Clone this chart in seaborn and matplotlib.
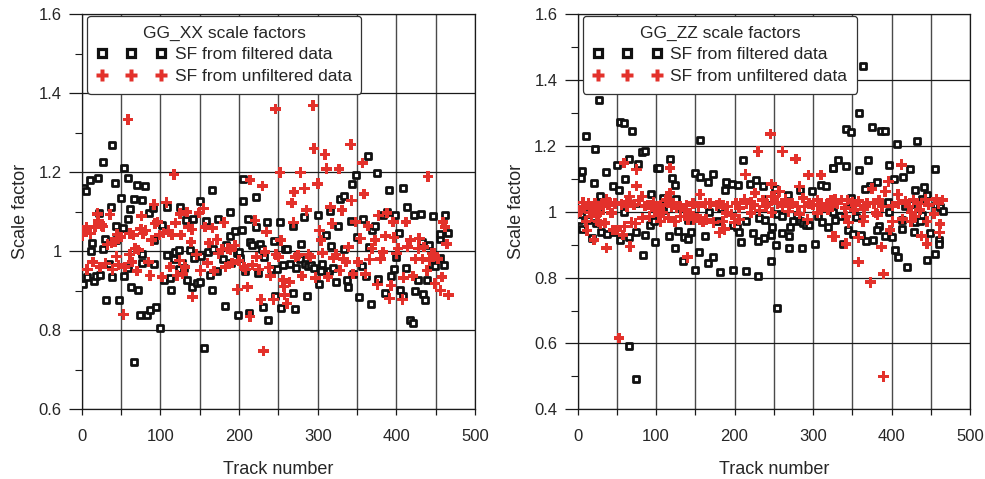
import numpy as np
import pandas as pd
import matplotlib
matplotlib.use("Agg")
import matplotlib.pyplot as plt
from matplotlib.lines import Line2D
from matplotlib.ticker import MultipleLocator, FuncFormatter
import seaborn as sns

# ---------------- data ----------------
xx_filt_track = [1, 3, 5, 7, 11, 12, 13, 15, 18, 21, 22, 23, 27, 27, 29, 31, 35, 37, 38, 39,
                 42, 44, 44, 47, 50, 52, 54, 54, 59, 59, 61, 59, 63, 66, 67, 70, 71, 74, 76, 76,
                 77, 81, 83, 86, 87, 91, 92, 92, 95, 99, 102, 104, 108, 109, 112, 114, 117, 119, 123, 124,
                 125, 127, 130, 133, 134, 138, 140, 141, 143, 147, 150, 150, 152, 156, 158, 160, 163, 166, 166, 167,
                 172, 173, 179, 182, 183, 188, 189, 190, 195, 197, 198, 200, 201, 204, 205, 205, 208, 211, 213, 214,
                 216, 221, 222, 224, 227, 229, 230, 232, 236, 237, 240, 244, 246, 248, 252, 253, 256, 258, 261, 265,
                 268, 269, 271, 272, 278, 279, 282, 284, 286, 288, 292, 295, 300, 302, 304, 306, 310, 314, 316, 317,
                 319, 323, 326, 328, 333, 334, 337, 339, 342, 344, 345, 349, 350, 353, 356, 358, 361, 364, 365, 368,
                 369, 373, 375, 376, 383, 386, 388, 391, 393, 397, 398, 400, 403, 405, 408, 409, 412, 414, 417, 421,
                 422, 424, 428, 431, 432, 434, 436, 439, 442, 445, 447, 449, 455, 456, 456, 461, 462, 466]
xx_filt_sf = [0.916, 1.161, 1.153, 0.935, 1.180, 1.000, 1.020, 0.926, 0.937, 1.186, 1.098, 0.940, 1.226, 1.007, 1.032, 0.878, 0.969, 1.112, 1.268, 0.935,
              1.174, 1.064, 1.028, 0.876, 1.134, 1.059, 0.938, 1.211, 1.186, 1.083, 1.106, 0.958, 0.910, 1.132, 0.720, 1.167, 0.901, 0.840, 0.971, 0.992,
              1.129, 1.165, 0.838, 1.098, 0.852, 1.110, 1.028, 0.969, 0.859, 0.807, 1.066, 0.928, 0.990, 1.111, 0.933, 0.901, 0.981, 0.997, 0.956, 1.004,
              1.111, 0.970, 0.959, 1.080, 0.928, 1.003, 0.910, 1.081, 0.983, 0.921, 1.127, 0.922, 0.987, 0.754, 1.076, 0.997, 0.941, 1.156, 0.901, 1.005,
              0.950, 1.083, 0.981, 0.861, 1.015, 1.040, 1.100, 0.970, 1.051, 0.996, 0.840, 0.998, 0.984, 1.053, 1.182, 1.127, 0.950, 1.083, 0.845, 1.024,
              1.015, 1.062, 1.138, 0.945, 1.018, 1.007, 0.860, 0.986, 1.073, 0.827, 0.956, 1.026, 0.886, 0.956, 1.073, 0.856, 0.965, 1.007, 1.007, 0.969,
              1.063, 0.895, 0.855, 0.957, 0.981, 1.019, 1.087, 0.969, 0.886, 0.962, 0.965, 0.959, 1.091, 0.918, 0.950, 0.969, 1.042, 0.950, 1.102, 1.013,
              0.958, 0.922, 1.064, 1.132, 1.141, 1.007, 0.928, 0.910, 1.077, 1.170, 0.942, 1.192, 1.035, 0.884, 0.963, 1.083, 0.937, 1.241, 1.011, 0.866,
              1.053, 1.063, 1.198, 0.931, 1.091, 0.895, 1.100, 1.154, 0.938, 0.956, 1.093, 0.986, 1.047, 0.903, 1.161, 0.886, 0.959, 1.111, 0.825, 0.819,
              1.093, 0.899, 0.928, 1.094, 1.024, 0.891, 0.876, 0.928, 1.015, 0.965, 1.089, 0.963, 1.030, 0.984, 1.045, 0.965, 1.093, 1.047]

xx_unf_track = [1, 4, 6, 7, 11, 14, 17, 20, 21, 23, 25, 27, 30, 33, 36, 38, 39, 42, 44, 45,
                47, 50, 53, 55, 59, 61, 61, 64, 66, 68, 70, 72, 75, 76, 78, 81, 85, 87, 89, 92,
                93, 96, 99, 102, 104, 108, 110, 112, 115, 117, 119, 121, 124, 125, 126, 128, 131, 134, 136, 139,
                140, 141, 146, 149, 151, 155, 157, 160, 162, 166, 168, 172, 174, 178, 181, 183, 186, 189, 191, 195,
                198, 200, 206, 208, 211, 214, 214, 217, 220, 222, 225, 228, 230, 231, 233, 235, 238, 240, 244, 246,
                247, 250, 252, 253, 256, 257, 258, 261, 264, 267, 269, 270, 272, 275, 278, 280, 283, 286, 288, 291,
                294, 295, 297, 300, 302, 304, 306, 309, 311, 313, 316, 318, 320, 323, 327, 328, 331, 333, 336, 339,
                342, 343, 345, 348, 351, 354, 357, 359, 361, 364, 366, 369, 373, 376, 377, 380, 383, 386, 388, 391,
                393, 396, 397, 400, 402, 408, 409, 412, 414, 418, 421, 424, 428, 429, 433, 435, 439, 440, 442, 445,
                448, 449, 453, 456, 458, 459, 462, 464, 466]
xx_unf_sf = [1.040, 1.053, 1.062, 0.954, 1.045, 0.973, 1.062, 1.095, 1.078, 0.960, 1.066, 1.063, 0.969, 1.017, 1.093, 1.022, 0.954, 1.024, 0.987, 1.042,
             0.965, 1.036, 0.840, 0.960, 1.334, 1.045, 0.992, 0.973, 1.041, 1.007, 0.950, 1.003, 1.057, 1.089, 1.045, 1.053, 0.973, 0.939, 1.028, 1.119,
             1.070, 1.074, 1.041, 0.935, 1.046, 1.123, 1.053, 0.960, 1.041, 1.195, 1.072, 0.939, 0.977, 1.095, 1.041, 0.943, 0.960, 1.100, 1.062, 1.024,
             1.055, 0.884, 0.992, 1.097, 0.952, 1.108, 1.062, 0.970, 1.021, 1.059, 0.950, 1.030, 0.994, 1.004, 1.073, 0.960, 1.007, 1.003, 0.970, 1.015,
             0.903, 0.977, 0.960, 0.954, 0.910, 1.181, 0.835, 0.965, 1.078, 0.986, 0.954, 0.878, 1.165, 0.748, 0.998, 1.049, 0.959, 0.937, 0.878, 1.360,
             0.992, 0.986, 1.199, 1.028, 0.927, 0.911, 0.890, 0.868, 0.922, 1.122, 1.073, 1.150, 0.986, 0.990, 1.199, 0.937, 1.159, 1.104, 0.992, 0.986,
             1.369, 1.260, 0.933, 1.171, 1.053, 1.028, 0.996, 1.245, 1.209, 0.935, 1.112, 1.070, 0.983, 0.992, 1.208, 0.952, 1.104, 0.981, 0.973, 1.011,
             1.271, 1.129, 0.943, 1.074, 0.973, 1.032, 1.224, 1.145, 0.943, 1.064, 0.979, 1.007, 1.028, 0.916, 1.091, 0.981, 0.998, 1.039, 1.097, 0.881,
             0.914, 1.074, 1.035, 0.994, 1.007, 0.878, 0.933, 1.074, 1.011, 1.028, 0.937, 0.981, 1.007, 1.032, 0.981, 1.011, 0.952, 1.190, 0.977, 0.994,
             0.994, 0.918, 0.981, 0.901, 0.935, 1.074, 1.062, 1.019, 0.889]

zz_filt_track = [27, 11, 22, 54, 59, 70, 82, 86, 66, 50, 77, 36, 6, 5, 21, 61, 45, 53, 29, 94,
                 75, 27, 12, 59, 2, 6, 13, 23, 18, 30, 37, 46, 54, 65, 75, 86, 92, 83, 99, 66,
                 75, 101, 104, 118, 120, 124, 109, 113, 125, 97, 116, 124, 128, 134, 136, 141, 145, 150, 150, 156,
                 156, 155, 141, 145, 133, 109,
                 166, 173, 188, 189, 197, 204, 211, 220, 227, 236, 252, 243, 268, 283, 299, 310, 317, 325, 168, 179,
                 163, 183, 198, 203, 206, 214, 231, 239, 248, 254, 261, 271, 274, 279, 283, 287, 291, 295, 306, 312,
                 319, 223, 230, 237, 246, 261, 269, 208, 253, 270, 286, 303, 166, 172, 182, 198, 214, 230, 246, 254,
                 364, 358, 342, 348, 375, 387, 392, 407, 433, 332, 326, 342, 370, 358, 397, 423, 455, 414, 403, 382,
                 373, 366, 430, 441, 445, 439, 396, 417, 425, 457, 462, 465, 349, 349, 326, 334, 355, 397, 413, 430,
                 436, 439, 384, 381, 344, 351, 361, 367, 376, 392, 400, 413, 429, 449, 338, 404, 408, 420, 445, 455,
                 461, 461, 328]
zz_filt_sf = [1.340, 1.231, 1.192, 1.274, 1.271, 1.246, 1.181, 1.185, 1.161, 1.141, 1.145, 1.120, 1.125, 1.104, 1.087, 1.100, 1.077, 1.067, 1.049, 1.055,
              1.026, 1.008, 0.993, 1.000, 0.976, 0.948, 0.976, 0.966, 0.921, 0.940, 0.932, 0.940, 0.915, 0.925, 0.940, 0.930, 0.961, 0.869, 0.908, 0.593,
              0.493, 1.133, 1.133, 1.160, 1.104, 1.080, 1.042, 1.031, 1.038, 0.971, 0.928, 0.890, 0.943, 0.851, 0.925, 0.917, 0.940, 0.822, 1.117, 1.107,
              1.219, 0.877, 0.976, 0.986, 1.011, 1.006,
              1.092, 1.114, 1.067, 1.092, 1.085, 1.082, 1.156, 1.085, 1.097, 1.077, 1.069, 1.038, 1.052, 1.067, 1.062, 1.080, 1.077, 1.133, 0.998, 0.973,
              0.927, 1.011, 0.961, 0.955, 0.940, 0.971, 0.981, 0.976, 0.953, 0.993, 0.988, 0.955, 0.971, 0.991, 0.971, 0.966, 0.961, 0.961, 0.986, 0.968,
              0.955, 0.937, 0.910, 0.920, 0.930, 0.937, 0.927, 0.908, 0.898, 0.890, 0.890, 0.903, 0.844, 0.862, 0.817, 0.824, 0.821, 0.804, 0.851, 0.707,
              1.442, 1.300, 1.252, 1.242, 1.259, 1.247, 1.246, 1.207, 1.216, 1.158, 1.133, 1.140, 1.158, 1.126, 1.142, 1.130, 1.130, 1.107, 1.100, 1.092,
              1.077, 1.070, 1.067, 1.075, 1.052, 1.038, 1.031, 1.019, 1.023, 1.021, 1.016, 1.001, 1.042, 1.026, 0.999, 0.988, 0.983, 0.998, 0.976, 0.968,
              0.971, 0.991, 0.957, 0.945, 0.945, 0.933, 0.930, 0.912, 0.915, 0.927, 0.925, 0.948, 0.938, 0.937, 0.903, 0.885, 0.864, 0.831, 0.854, 0.872,
              0.915, 0.903, 0.976]

zz_unf_track = [59, 75, 75, 118, 118, 156, 82, 66, 53, 37, 67, 140, 7, 14, 22, 31, 37, 48, 56, 63,
                72, 86, 97, 106, 113, 122, 131, 139, 147, 154, 0, 3, 11, 12, 18, 21, 29, 28, 35, 43,
                45, 50, 58, 60, 69, 74, 83, 92, 103, 106, 116, 124, 131, 141, 152, 160, 27, 16, 39,
                3, 8, 15, 20, 25, 33, 41, 44, 63, 67, 78, 90, 94, 99, 104, 109, 120, 126, 137, 143,
                148, 156,
                246, 230, 261, 278, 214, 294, 310, 247, 226, 283, 257, 169, 177, 185, 191, 202, 213, 221, 236, 242, 251,
                265, 274, 287, 295, 306, 317, 323, 164, 173, 181, 187, 196, 200, 221, 232, 248, 269, 283, 293, 306,
                325, 185, 206,
                163, 181, 189, 206, 215, 225, 240, 247, 255, 261, 270, 280, 289, 300, 310, 319, 325,
                413, 396, 392, 375, 408, 328, 336, 350, 358, 369, 384, 401, 418, 428, 443, 457, 465, 341, 352, 365,
                380, 425, 436, 454, 342, 345, 364, 401, 414, 425, 445, 462, 328, 342, 358, 398, 438, 445, 461, 387,
                358, 390, 373, 390,
                331, 344, 354, 367, 378, 388, 409, 422, 433, 447, 460, 365, 382, 430]
zz_unf_sf = [1.148, 1.128, 1.079, 1.133, 1.057, 1.052, 1.047, 1.047, 0.616, 0.890, 0.895, 0.862, 1.029, 1.026, 1.026, 1.023, 1.038, 1.026, 1.023, 1.031,
             1.021, 1.018, 1.028, 1.021, 1.036, 1.026, 1.018, 1.021, 1.026, 1.016, 0.996, 1.006, 0.971, 0.943, 0.986, 0.915, 0.963, 0.996, 0.966, 0.996,
             0.945, 0.945, 0.930, 0.955, 0.968, 0.964, 0.981, 0.986, 1.001, 0.971, 0.981, 0.971, 0.986, 0.976, 0.981, 0.971, 0.971, 1.011, 1.021,
             1.001, 1.016, 0.998, 1.011, 0.991, 1.016, 1.028, 0.996, 1.016, 1.028, 1.034, 1.021, 1.021, 1.006, 0.991, 0.998, 1.016, 1.011, 1.006, 0.996,
             0.976, 0.976,
             1.236, 1.183, 1.183, 1.161, 1.114, 1.112, 1.112, 1.085, 1.057, 1.077, 1.062, 1.026, 1.019, 1.021, 1.016, 1.026, 1.038, 1.028, 1.036, 1.024, 1.047,
             1.038, 1.026, 1.042, 1.026, 1.036, 1.024, 1.036, 0.976, 0.968, 0.937, 0.947, 0.991, 0.968, 0.996, 1.004, 0.998, 1.001, 0.994, 0.976, 0.996,
             0.925, 0.971, 0.976,
             1.026, 1.026, 0.996, 1.011, 1.026, 1.021, 1.016, 1.047, 1.026, 1.016, 1.021, 1.016, 1.016, 1.021, 1.016, 1.006, 1.016,
             1.143, 1.092, 1.062, 1.070, 1.052, 1.038, 1.036, 1.029, 1.033, 1.026, 1.036, 1.018, 1.033, 1.036, 1.038, 1.039, 1.036, 1.011, 1.006, 1.008,
             0.996, 0.998, 1.006, 0.994, 0.986, 0.968, 0.971, 0.971, 0.978, 0.971, 0.971, 0.963, 0.925, 0.903, 0.922, 0.945, 0.927, 0.903, 0.937, 0.893,
             0.847, 0.811, 0.786, 0.500,
             1.026, 1.036, 1.021, 1.018, 1.026, 1.016, 1.026, 1.016, 1.026, 1.021, 1.026, 0.986, 0.991, 0.986]

panel_titles = ["GG_XX scale factors", "GG_ZZ scale factors"]
series_labels = ["SF from filtered data", "SF from unfiltered data"]
x_ticks = [0, 100, 200, 300, 400, 500]
y_ticks_left = [0.6, 0.8, 1.0, 1.2, 1.4, 1.6]
y_ticks_right = [0.4, 0.6, 0.8, 1.0, 1.2, 1.4, 1.6]

# ---------------- style ----------------
sns.set_theme(style="white")
plt.rcParams["font.family"] = ["Liberation Sans", "DejaVu Sans"]

RED = "#e3312b"
BLACK = "#111111"

fig = plt.figure(figsize=(9.85, 4.79), dpi=100)
ax1 = fig.add_axes([0.0830, 0.1455, 0.3993, 0.8246])
ax2 = fig.add_axes([0.5863, 0.1455, 0.3985, 0.8246])

panels = [
    (ax1, xx_filt_track, xx_filt_sf, xx_unf_track, xx_unf_sf, y_ticks_left, panel_titles[0]),
    (ax2, zz_filt_track, zz_filt_sf, zz_unf_track, zz_unf_sf, y_ticks_right, panel_titles[1]),
]

for ax, ft, fs, ut, us, yt, title in panels:
    df_f = pd.DataFrame({"track": ft, "sf": fs})
    df_u = pd.DataFrame({"track": ut, "sf": us})
    sns.scatterplot(data=df_f, x="track", y="sf", ax=ax, marker="s", s=20,
                    facecolor="white", edgecolor=BLACK, linewidth=2.0, zorder=3, legend=False)
    sns.scatterplot(data=df_u, x="track", y="sf", ax=ax, marker="P", s=58,
                    color=RED, edgecolor="none", linewidth=0, zorder=4, legend=False)

    ax.set_xlim(0, 500)
    ax.set_ylim(yt[0], yt[-1])
    ax.xaxis.set_major_locator(MultipleLocator(50))
    ax.xaxis.set_major_formatter(FuncFormatter(lambda v, p: f"{int(v)}" if int(v) % 100 == 0 else ""))
    ax.set_yticks(yt)
    ax.yaxis.set_major_formatter(FuncFormatter(lambda v, p: f"{v:g}"))
    ax.yaxis.set_minor_locator(MultipleLocator(0.1))
    ax.grid(True, axis="y", which="major", color="#1a1a1a", linewidth=0.9)
    ax.grid(True, axis="x", which="major", color="#4a4a4a", linewidth=1.0)
    ax.set_axisbelow(True)
    for sp in ax.spines.values():
        sp.set_color("#1a1a1a")
        sp.set_linewidth(0.9)
    ax.tick_params(axis="y", which="major", direction="out", length=9.5, width=0.9,
                   color="#1a1a1a", labelsize=12, pad=5, left=True)
    ax.tick_params(axis="y", which="minor", direction="out", length=5, width=0.8,
                   color="#1a1a1a", left=True)
    ax.tick_params(axis="x", which="major", direction="out", length=4.5, width=0.9,
                   color="#1a1a1a", labelsize=12, pad=10, bottom=True)
    ax.set_xlabel("Track number", fontsize=13, labelpad=12)
    ax.set_ylabel("Scale factor", fontsize=13, labelpad=7)

    handles = [
        Line2D([], [], linestyle="none", marker="s", markersize=5.2, markerfacecolor="white",
               markeredgecolor=BLACK, markeredgewidth=2.3),
        Line2D([], [], linestyle="none", marker="P", markersize=9, markerfacecolor=RED,
               markeredgecolor="none"),
    ]
    leg = ax.legend(handles, series_labels, title=title, loc="upper left",
                    bbox_to_anchor=(0.0135, 0.996), borderaxespad=0, numpoints=3,
                    handlelength=4.0, handletextpad=0.5, fontsize=12.5, title_fontsize=12.5,
                    frameon=True, fancybox=True, framealpha=1, edgecolor="#333333",
                    labelspacing=0.38, borderpad=0.55)
    leg.get_frame().set_linewidth(0.9)
    leg.set_zorder(10)

fig.savefig("out.png", dpi=100)
